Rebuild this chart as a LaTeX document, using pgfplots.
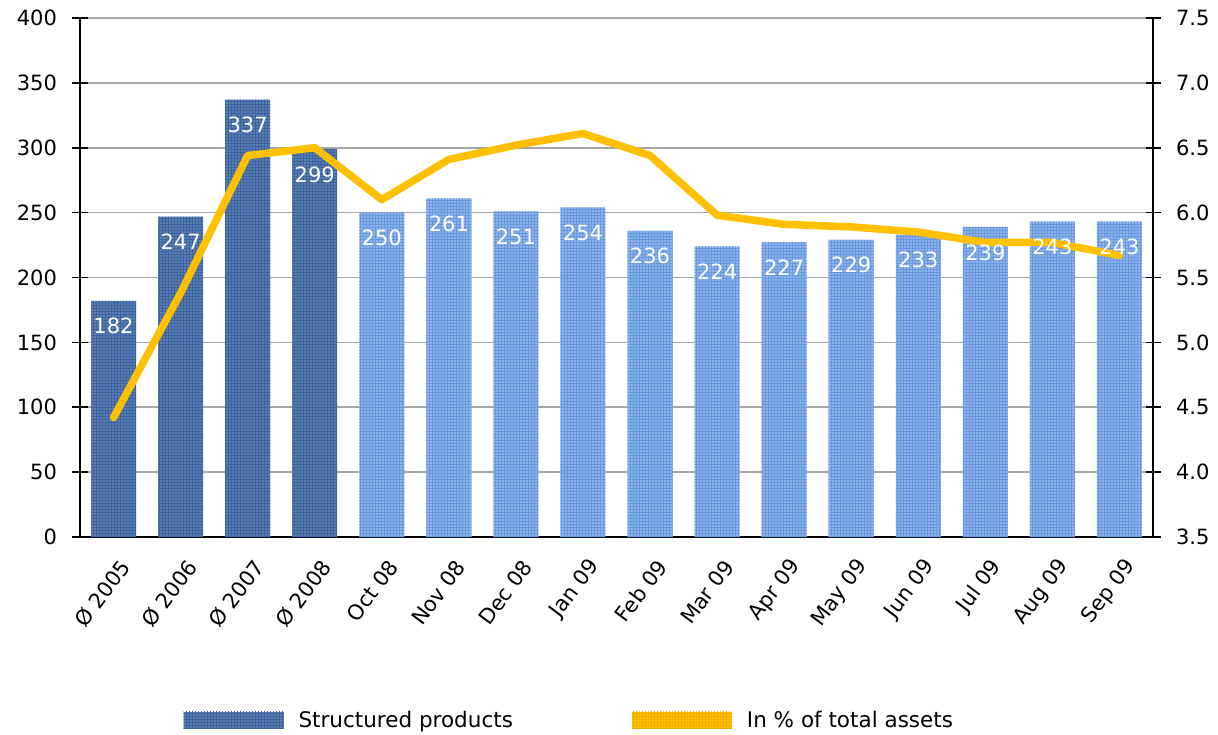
\documentclass[border=0pt]{standalone}
\usepackage{pgfplots}
\pgfplotsset{compat=1.18}
\usetikzlibrary{patterns}
\usepackage{fontspec}
\setmainfont{DejaVu Sans}
\definecolor{darkbar}{HTML}{5A7FB5}
\definecolor{darkpat}{HTML}{3E64A0}
\definecolor{lightbar}{HTML}{8DB4EB}
\definecolor{lightpat}{HTML}{6A98DE}
\definecolor{lineyel}{HTML}{FFC000}
\definecolor{linepat}{HTML}{F0B000}
\definecolor{gridgray}{HTML}{A6A6A6}
\pgfplotstableread{
x y
0 182
1 247
2 337
3 299
}\darktab
\pgfplotstableread{
x y
4 250
5 261
6 251
7 254
8 236
9 224
10 227
11 229
12 233
13 239
14 243
15 243
}\lighttab
\pgfplotstableread{
x y
0 182
1 247
2 337
3 299
4 250
5 261
6 251
7 254
8 236
9 224
10 227
11 229
12 233
13 239
14 243
15 243
}\alltab
\pgfplotstableread{
x y
0 4.42
1 5.38
2 6.44
3 6.50
4 6.10
5 6.41
6 6.52
7 6.61
8 6.44
9 5.98
10 5.91
11 5.89
12 5.85
13 5.77
14 5.77
15 5.67
}\pcttab
\pgfplotsset{
  common/.style={
    scale only axis, width=1073pt, height=519pt,
    xmin=-0.5, xmax=15.5,
    tick align=center,
    major tick length=15pt,
    every tick/.style={black, line width=1.6pt},
    tick label style={font=\fontsize{21}{24}\selectfont},
    /pgf/number format/assume math mode=true,
  }
}
\begin{document}
\begin{tikzpicture}
\useasboundingbox (-80pt,-197pt) rectangle (1138pt,537pt);
\begin{axis}[common, name=ax,
  ymin=0, ymax=400, ytick={0,50,...,400},
  axis x line*=bottom, axis y line*=left,
  axis line style={line width=2pt, -},
  ymajorgrids, grid style={gridgray, line width=1.6pt},
  yticklabel style={xshift=-12pt},
  xtick={0,...,15},
  xticklabels={Ø 2005,Ø 2006,Ø 2007,Ø 2008,Oct 08,Nov 08,Dec 08,Jan 09,Feb 09,Mar 09,Apr 09,May 09,Jun 09,Jul 09,Aug 09,Sep 09},
  x tick style={draw=none},
  minor xtick={-0.5,0.5,...,15.5},
  minor tick length=12pt,
  xticklabel style={rotate=53, anchor=east, yshift=-16pt, xshift=2pt},
  ybar, bar width=45pt, bar shift=0pt,
]
\addplot[fill=darkbar, draw=none, postaction={pattern=grid, pattern color=darkpat}] table[x=x,y=y] {\darktab};
\addplot[fill=lightbar, draw=none, postaction={pattern=grid, pattern color=lightpat}] table[x=x,y=y] {\lighttab};
\end{axis}
\begin{axis}[common,
  ymin=3.5, ymax=7.5, ytick={3.5,4,...,7.5},
  axis y line*=right, axis x line=none,
  axis line style={line width=2pt, -},
  yticklabel style={xshift=12pt, /pgf/number format/.cd, fixed, fixed zerofill, precision=1},
]
\addplot[lineyel, line width=7.5pt, line join=round, line cap=round] table[x=x,y=y] {\pcttab};
\end{axis}
\begin{axis}[common,
  ymin=0, ymax=400, hide axis,
  ybar, bar width=45pt, bar shift=0pt,
  nodes near coords,
  every node near coord/.append style={white, anchor=north, yshift=-14pt, font=\fontsize{21}{24}\selectfont},
  legend style={draw=none, fill=none, at={(0.456,-0.3526)}, anchor=center,
    legend columns=2, font=\fontsize{21.5}{24}\selectfont,
    /tikz/every even column/.append style={column sep=117pt}},
  legend cell align=left,
]
\addplot[draw=none, fill=none, forget plot] table[x=x,y=y] {\alltab};
\addlegendimage{draw=none, legend image code/.code={\fill[darkbar, draw=none] (0pt,-8.5pt) rectangle (100pt,8.5pt); \path[draw=none, pattern=grid, pattern color=darkpat] (0pt,-8.5pt) rectangle (100pt,8.5pt); \path[draw=none, fill=none] (113pt,0pt) circle (0pt);}}
\addlegendentry{Structured products}
\addlegendimage{draw=none, legend image code/.code={\fill[lineyel, draw=none] (0pt,-8.5pt) rectangle (100pt,8.5pt); \path[draw=none, pattern=grid, pattern color=linepat] (0pt,-8.5pt) rectangle (100pt,8.5pt); \path[draw=none, fill=none] (113pt,0pt) circle (0pt);}}
\addlegendentry{In \% of total assets}
\end{axis}
\end{tikzpicture}
\end{document}
